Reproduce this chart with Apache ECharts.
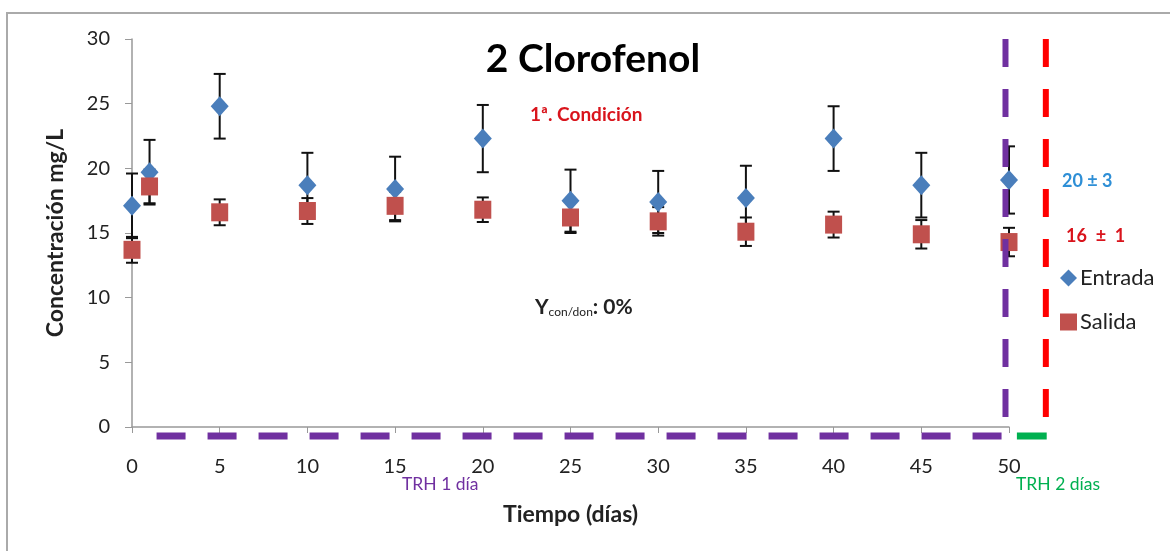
<!DOCTYPE html>
<html>
<head>
<meta charset="utf-8">
<script src="https://cdn.jsdelivr.net/npm/echarts@6/dist/echarts.min.js"></script>
<style>
html,body{margin:0;padding:0;background:#fff;}
#chart{width:1170px;height:551px;}
</style>
</head>
<body>
<div id="chart"></div>
<script>
// ---- data ----
const days = [0, 1, 5, 10, 15, 20, 25, 30, 35, 40, 45, 50];
const entrada = [17.1, 19.7, 24.8, 18.7, 18.4, 22.3, 17.5, 17.4, 17.7, 22.3, 18.7, 19.1];
const entradaErr = [2.5, 2.5, 2.5, 2.5, 2.5, 2.6, 2.4, 2.4, 2.5, 2.5, 2.5, 2.6];
const salida = [13.7, 18.6, 16.6, 16.7, 17.1, 16.8, 16.2, 15.9, 15.1, 15.65, 14.9, 14.3];
const salidaErr = [1.0, 1.3, 1.0, 1.0, 1.1, 0.95, 1.2, 1.1, 1.1, 1.0, 1.1, 1.1];
const xTicks = [0, 5, 10, 15, 20, 25, 30, 35, 40, 45, 50];
const yTicks = [0, 5, 10, 15, 20, 25, 30];
// annotation lines (data units)
const purpleVLine = [[49.8, 30], [49.8, 0.15]];
const redVLine = [[52.1, 30], [52.1, 0.15]];
const purpleHLine = [[1.4, -0.7], [49.7, -0.7]];
const greenHLine = [[50.45, -0.7], [52.15, -0.7]];

const FONT = 'Lato, "Open Sans", sans-serif';
const chart = echarts.init(document.getElementById('chart'), null, {renderer: 'canvas'});

function errData(vals, errs) {
  return days.map((d, i) => [d, vals[i], vals[i] - errs[i], vals[i] + errs[i]]);
}
function errRender(params, api) {
  const x = api.value(0);
  const lo = api.coord([x, api.value(2)]);
  const hi = api.coord([x, api.value(3)]);
  const cw = 6;
  const st = {stroke: '#111', lineWidth: 2};
  return {
    type: 'group',
    children: [
      {type: 'line', shape: {x1: lo[0], y1: lo[1], x2: hi[0], y2: hi[1]}, style: st},
      {type: 'line', shape: {x1: lo[0] - cw, y1: lo[1], x2: lo[0] + cw, y2: lo[1]}, style: st},
      {type: 'line', shape: {x1: hi[0] - cw, y1: hi[1], x2: hi[0] + cw, y2: hi[1]}, style: st}
    ]
  };
}

const gridLeft = 132, gridTop = 39, gridW = 877, gridH = 388;
const pxX = gridW / 50, pxY = gridH / 30;

const option = {
  backgroundColor: '#fff',
  animation: false,
  textStyle: {fontFamily: FONT},
  title: {
    text: '2 Clorofenol',
    left: 588, top: 35, textAlign: 'center',
    textStyle: {fontFamily: FONT, fontSize: 39, fontWeight: 'bold', color: '#000'}
  },
  legend: {
    orient: 'vertical',
    left: 1060, top: 267, padding: 0,
    itemGap: 22,
    itemWidth: 17, itemHeight: 17,
    data: ['Entrada', 'Salida'],
    textStyle: {fontFamily: FONT, fontSize: 22, color: '#222', padding: [0, 0, 0, -2]}
  },
  grid: [
    {left: gridLeft, top: gridTop, width: gridW, height: gridH},
    {left: gridLeft, top: gridTop, width: 55 * pxX, height: 33 * pxY}
  ],
  xAxis: [
    {
      type: 'value', gridIndex: 0, min: 0, max: 50, interval: 5,
      name: 'Tiempo (días)', nameLocation: 'middle', nameGap: 76,
      nameTextStyle: {fontFamily: FONT, fontSize: 23, fontWeight: 'bold', color: '#222'},
      axisLine: {lineStyle: {color: '#999', width: 1.5}},
      axisTick: {show: true, length: 6, lineStyle: {color: '#999'}},
      axisLabel: {margin: 30, fontSize: 20, color: '#222', fontFamily: FONT,
        formatter: v => xTicks.includes(v) ? String(v) : ''},
      splitLine: {show: false}
    },
    {type: 'value', gridIndex: 1, min: 0, max: 55, show: false}
  ],
  yAxis: [
    {
      type: 'value', gridIndex: 0, min: 0, max: 30, interval: 5,
      name: 'Concentración mg/L', nameLocation: 'middle', nameGap: 65,
      nameTextStyle: {fontFamily: FONT, fontSize: 23, fontWeight: 'bold', color: '#222'},
      axisLine: {show: true, lineStyle: {color: '#999', width: 1.5}},
      axisTick: {show: true, length: 7, lineStyle: {color: '#999'}},
      axisLabel: {margin: 22, fontSize: 20, color: '#222', fontFamily: FONT,
        formatter: v => yTicks.includes(v) ? String(v) : ''},
      splitLine: {show: false}
    },
    {type: 'value', gridIndex: 1, min: -3, max: 30, show: false}
  ],
  series: [
    {
      name: 'errEntrada', type: 'custom', xAxisIndex: 0, yAxisIndex: 0, z: 2,
      renderItem: errRender, data: errData(entrada, entradaErr), silent: true
    },
    {
      name: 'errSalida', type: 'custom', xAxisIndex: 0, yAxisIndex: 0, z: 2,
      renderItem: errRender, data: errData(salida, salidaErr), silent: true
    },
    {
      name: 'Entrada', type: 'scatter', xAxisIndex: 0, yAxisIndex: 0, z: 3,
      symbol: 'diamond', symbolSize: [18, 20],
      itemStyle: {color: '#4a7ebb', opacity: 1},
      data: days.map((d, i) => [d, entrada[i]])
    },
    {
      name: 'Salida', type: 'scatter', xAxisIndex: 0, yAxisIndex: 0, z: 4,
      symbol: 'rect', symbolSize: [17, 18],
      itemStyle: {color: '#c0504d', opacity: 1},
      data: days.map((d, i) => [d, salida[i]])
    },
    {
      name: 'lnPurpleV', type: 'line', xAxisIndex: 1, yAxisIndex: 1, z: 5,
      symbol: 'none', silent: true, data: purpleVLine,
      lineStyle: {color: '#7030a0', width: 6, type: [28, 22], cap: 'butt'}
    },
    {
      name: 'lnRedV', type: 'line', xAxisIndex: 1, yAxisIndex: 1, z: 5,
      symbol: 'none', silent: true, data: redVLine,
      lineStyle: {color: '#ff0000', width: 6, type: [28, 22], cap: 'butt'}
    },
    {
      name: 'lnPurpleH', type: 'line', xAxisIndex: 1, yAxisIndex: 1, z: 5,
      symbol: 'none', silent: true, data: purpleHLine,
      lineStyle: {color: '#7030a0', width: 7, type: [29, 22], cap: 'butt'}
    },
    {
      name: 'lnGreenH', type: 'line', xAxisIndex: 1, yAxisIndex: 1, z: 5,
      symbol: 'none', silent: true, data: greenHLine,
      lineStyle: {color: '#00b050', width: 7, type: 'solid', cap: 'butt'}
    }
  ],
  graphic: [
    {type: 'rect', z: -10, shape: {x: 7, y: 13, width: 1200, height: 600},
      style: {fill: 'none', stroke: '#aaa', lineWidth: 2}},
    {type: 'text', left: 530, top: 105, z: 10,
      style: {text: '1ª. Condición', fontFamily: FONT, fontSize: 19, fontWeight: 'bold', fill: '#d9141c'}},
    {type: 'text', left: 535, top: 297, z: 10,
      style: {text: '{y|Y}{s|con/don}{n|: 0%}', fontFamily: FONT,
        rich: {
          y: {fontFamily: FONT, fontSize: 21, fontWeight: 'bold', fill: '#222', color: '#222'},
          s: {fontFamily: FONT, fontSize: 12, fill: '#222', color: '#222', verticalAlign: 'bottom', padding: [8, 0, 0, 0]},
          n: {fontFamily: FONT, fontSize: 21, fontWeight: 'bold', fill: '#222', color: '#222'}
        }}},
    {type: 'text', left: 1062, top: 172, z: 10,
      style: {text: '20 ± 3', fontFamily: FONT, fontSize: 18, fontWeight: 'bold', fill: '#2e8fd6'}},
    {type: 'text', left: 1066, top: 227, z: 10,
      style: {text: '16  ±  1', fontFamily: FONT, fontSize: 18, fontWeight: 'bold', fill: '#d9141c'}},
    {type: 'text', left: 402, top: 475, z: 10,
      style: {text: 'TRH 1 día', fontFamily: FONT, fontSize: 17.5, fill: '#7030a0'}},
    {type: 'text', left: 1016, top: 475, z: 10,
      style: {text: 'TRH 2 días', fontFamily: FONT, fontSize: 17.5, fill: '#00b050'}}
  ]
};
chart.setOption(option);
</script>
</body>
</html>
